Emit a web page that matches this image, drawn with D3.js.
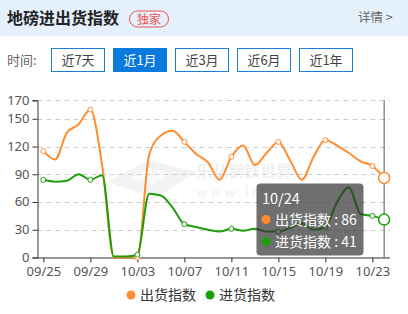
<!DOCTYPE html>
<html><head><meta charset="utf-8">
<script src="https://cdn.jsdelivr.net/npm/d3@7"></script>
<style>
html,body{margin:0;padding:0;background:#fff;}
svg{display:block;font-family:"Noto Sans CJK SC","Noto Sans",sans-serif;}
</style></head>
<body><svg id="c" width="408" height="314"></svg>
<script>
const dates = ["09/25","09/26","09/27","09/28","09/29","09/30","10/01","10/02","10/03","10/04","10/05","10/06","10/07","10/08","10/09","10/10","10/11","10/12","10/13","10/14","10/15","10/16","10/17","10/18","10/19","10/20","10/21","10/22","10/23","10/24"];
const outIndex = [115,106,135,144,160,100,0,0,0,111,132,137,125,112,103,84,109,121,100,113,125,105,84,109,127,121,113,104,99,86];
const inIndex = [84,82,83,90,84,89,1,1,3,69,67,54,36,33,30,28,31,29,31,28,28,32,37,30,33,60,76,47,45,41];
const yTicks = [0,30,60,90,120,150,170];
const seriesNames = ["出货指数","进货指数"];
const seriesColors = ["#ff8c2e","#1e9e0c"];
const buttons = ["近7天","近1月","近3月","近6月","近1年"];
const hoverIdx = 29;

const svg = d3.select("#c");
// header
svg.append("rect").attr("x",0).attr("y",0).attr("width",408).attr("height",36).attr("fill","#e4f0fb");
svg.append("text").attr("x",7).attr("y",24).attr("font-size",16).attr("font-weight","bold").attr("fill","#222").text("地磅进出货指数");
svg.append("rect").attr("x",129.5).attr("y",11).attr("width",39).attr("height",16).attr("rx",8).attr("fill","none").attr("stroke","#f05050").attr("stroke-width",1);
svg.append("text").attr("x",149).attr("y",23.5).attr("text-anchor","middle").attr("font-size",12).attr("fill","#f05050").text("独家");
svg.append("text").attr("x",358).attr("y",22).attr("font-size",12.5).attr("fill","#666").text("详情 >");

// time buttons
svg.append("text").attr("x",7).attr("y",65).attr("font-size",13).attr("fill","#666").text("时间:");
buttons.forEach((b,i)=>{
  const bx = 51.5 + i*62, sel = i===1;
  svg.append("rect").attr("x",bx).attr("y",48.5).attr("width",53).attr("height",23)
    .attr("fill",sel?"#0a7bdc":"#fff").attr("stroke",sel?"#0a7bdc":"#1a7fd6").attr("stroke-width",1);
  svg.append("text").attr("x",bx+26.5).attr("y",65).attr("text-anchor","middle").attr("font-size",13)
    .attr("fill",sel?"#fff":"#444").text(b);
});

// chart
const pLeft=37.5, pRight=390, pTop=100.3, pBottom=257.5;
const x = d3.scalePoint().domain(dates).range([pLeft,pRight]).padding(0.5);
const y = d3.scaleLinear().domain([0,170]).range([pBottom,pTop]);

// watermark
const wm = svg.append("g").attr("opacity",0.9);
wm.append("polygon").attr("points","108,182 148,160 196,172 156,198").attr("fill","#f2f2f2");
wm.append("polygon").attr("points","130,178 150,168 172,174 152,184").attr("fill","#fafafa");
wm.append("text").attr("x",196).attr("y",177).attr("font-size",16).attr("font-weight","bold").attr("fill","#f0f0f0").text("乐从钢铁世界");
wm.append("text").attr("x",196).attr("y",197).attr("font-size",14).attr("letter-spacing",3).attr("fill","#f0f0f0").text("www.lc");

// grid
svg.append("g").selectAll("line").data(yTicks.filter(d=>d>0)).join("line")
  .attr("x1",pLeft).attr("x2",pRight).attr("y1",d=>Math.round(y(d))+0.5).attr("y2",d=>Math.round(y(d))+0.5)
  .attr("stroke","#ccc").attr("stroke-dasharray","5,4");

// axes
const yAxis = svg.append("g").attr("transform",`translate(${pLeft},0)`)
  .call(d3.axisLeft(y).tickValues(yTicks).tickSize(5).tickPadding(3));
yAxis.select(".domain").attr("stroke","#333");
yAxis.selectAll(".tick line").attr("stroke","#333");
yAxis.selectAll("text").attr("font-size",13).attr("fill","#555").attr("font-family","Noto Sans").attr("dy","0.3em");

const xAxis = svg.append("g").attr("transform",`translate(0,${pBottom})`)
  .call(d3.axisBottom(x).tickValues(dates.filter((d,i)=>i%4===0)).tickSize(5).tickPadding(4));
xAxis.select(".domain").attr("stroke","#333").attr("d",`M${pLeft},0.5H${pRight}`);
xAxis.selectAll(".tick line").attr("stroke","#333");
xAxis.selectAll("text").attr("font-size",13).attr("fill","#555").attr("font-family","Noto Sans");

// crosshair
svg.append("line").attr("x1",x(dates[hoverIdx])).attr("x2",x(dates[hoverIdx])).attr("y1",pTop).attr("y2",pBottom)
  .attr("stroke","#555").attr("stroke-width",1);

// lines
const series=[outIndex,inIndex];
const line = d3.line().x((d,i)=>x(dates[i])).y(d=>y(d)).curve(d3.curveMonotoneX);
series.forEach((s,k)=>{
  svg.append("path").attr("d",line(s)).attr("fill","none").attr("stroke",seriesColors[k]).attr("stroke-width",2);
});
series.forEach((s,k)=>{
  svg.append("g").selectAll("circle").data(s.map((v,i)=>({v,i})).filter(d=>d.i%4===0)).join("circle")
    .attr("cx",d=>x(dates[d.i])).attr("cy",d=>y(d.v)).attr("r",2.5)
    .attr("fill","#fff").attr("stroke",seriesColors[k]).attr("stroke-width",1);
  svg.append("circle").attr("cx",x(dates[hoverIdx])).attr("cy",y(s[hoverIdx])).attr("r",5.5)
    .attr("fill","#fff").attr("stroke",seriesColors[k]).attr("stroke-width",1.5);
});

// tooltip
const tt = svg.append("g");
tt.append("rect").attr("x",256.5).attr("y",183.5).attr("width",107).attr("height",72).attr("rx",4)
  .attr("fill","rgba(50,50,50,0.7)");
tt.append("text").attr("x",262).attr("y",204).attr("font-size",14.5).attr("fill","#fff").text(dates[hoverIdx]);
series.forEach((s,k)=>{
  const cy = 219.5 + k*22;
  tt.append("circle").attr("cx",266).attr("cy",cy).attr("r",4.5).attr("fill",seriesColors[k]);
  tt.append("text").attr("x",275).attr("y",cy+5).attr("font-size",14).attr("fill","#fff")
    .text(seriesNames[k]+" : "+s[hoverIdx]);
});

// legend
const lg=[{x:131,tx:140},{x:210,tx:219}];
seriesNames.forEach((n,k)=>{
  svg.append("circle").attr("cx",lg[k].x).attr("cy",295).attr("r",4.5).attr("fill",seriesColors[k]);
  svg.append("text").attr("x",lg[k].tx).attr("y",300).attr("font-size",14).attr("fill","#333").text(n);
});
</script></body></html>
